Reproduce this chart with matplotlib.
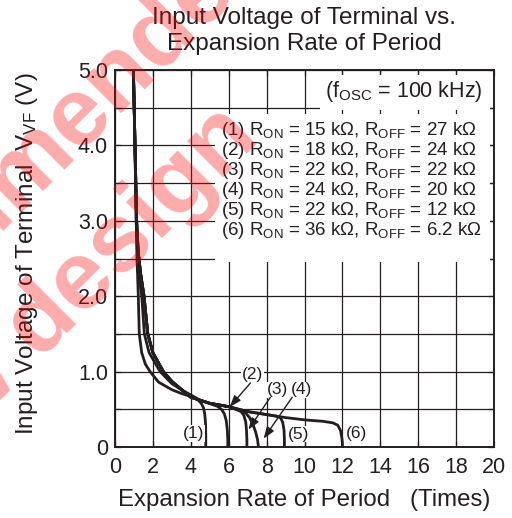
import matplotlib
matplotlib.use("Agg")
import matplotlib.pyplot as plt
from matplotlib.patches import Rectangle
from matplotlib.ticker import MultipleLocator, FixedLocator

plt.rcParams['font.family'] = ['Liberation Sans', 'DejaVu Sans']
plt.rcParams['mathtext.fontset'] = 'custom'
plt.rcParams['mathtext.rm'] = 'Liberation Sans'
plt.rcParams['mathtext.it'] = 'Liberation Sans:italic'
plt.rcParams['mathtext.bf'] = 'Liberation Sans:bold'

# ---- data: expansion rate of period (x) vs. VF terminal voltage (V) ----
x1 = [0.97, 1.03, 1.08, 1.12, 1.16, 1.23, 1.28, 1.41, 1.60, 1.85, 2.3, 3.0, 3.5, 4.0, 4.35, 4.55, 4.67, 4.74, 4.78, 4.79, 4.79]
v1 = [5.0, 4.3, 3.6, 3.0, 2.5, 2.0, 1.5, 1.25, 1.1, 1.0, 0.86, 0.76, 0.71, 0.67, 0.63, 0.58, 0.52, 0.43, 0.3, 0.15, 0.0]

x2 = [0.97, 1.03, 1.08, 1.12, 1.18, 1.28, 1.41, 1.55, 1.80, 2.38, 3.0, 3.5, 4.0, 4.5, 5.0, 5.4, 5.62, 5.77, 5.87, 5.93, 5.95, 5.95]
v2 = [5.0, 4.3, 3.6, 3.0, 2.6, 2.25, 2.0, 1.5, 1.25, 1.0, 0.84, 0.76, 0.69, 0.62, 0.575, 0.54, 0.5, 0.44, 0.35, 0.22, 0.1, 0.0]

x3 = [0.97, 1.03, 1.09, 1.14, 1.22, 1.35, 1.53, 1.73, 2.0, 2.55, 3.0, 3.52, 4.0, 5.0, 6.0, 6.4, 6.65, 6.8, 6.9, 6.94, 6.96, 6.96]
v3 = [5.0, 4.3, 3.6, 3.0, 2.6, 2.3, 2.0, 1.5, 1.25, 1.0, 0.87, 0.76, 0.66, 0.58, 0.535, 0.5, 0.47, 0.42, 0.33, 0.22, 0.1, 0.0]

x4 = [0.97, 1.03, 1.09, 1.14, 1.22, 1.35, 1.53, 1.73, 2.0, 2.55, 3.0, 3.52, 4.0, 5.0, 6.0, 6.6, 6.9, 7.1, 7.28, 7.42, 7.52, 7.57]
v4 = [5.0, 4.3, 3.6, 3.0, 2.6, 2.3, 2.0, 1.5, 1.25, 1.0, 0.87, 0.76, 0.66, 0.58, 0.535, 0.48, 0.45, 0.39, 0.3, 0.2, 0.1, 0.0]

x5 = [0.97, 1.03, 1.09, 1.14, 1.22, 1.35, 1.53, 1.73, 2.0, 2.55, 3.0, 3.52, 4.0, 5.0, 6.0, 7.0, 8.0, 8.5, 8.72, 8.85, 8.92, 8.94, 8.94]
v5 = [5.0, 4.3, 3.6, 3.0, 2.6, 2.3, 2.0, 1.5, 1.25, 1.0, 0.87, 0.76, 0.66, 0.58, 0.535, 0.47, 0.43, 0.41, 0.39, 0.33, 0.22, 0.1, 0.0]

x6 = [0.97, 1.03, 1.09, 1.14, 1.22, 1.35, 1.53, 1.73, 2.0, 2.55, 3.0, 3.52, 4.0, 5.0, 6.0, 7.0, 8.0, 9.0, 10.0, 11.0, 11.5, 11.75, 11.9, 11.97, 12.0, 12.0]
v6 = [5.0, 4.3, 3.6, 3.0, 2.6, 2.3, 2.0, 1.5, 1.25, 1.0, 0.87, 0.76, 0.66, 0.58, 0.535, 0.47, 0.43, 0.39, 0.36, 0.34, 0.32, 0.29, 0.22, 0.12, 0.05, 0.0]

curve_ids = ['(1)', '(2)', '(3)', '(4)', '(5)', '(6)']
r_on = ['15', '18', '22', '24', '22', '36']
r_off = ['27', '24', '22', '20', '12', '6.2']

x_ticks = [0, 2, 4, 6, 8, 10, 12, 14, 16, 18, 20]
y_ticks = [0, 1, 2, 3, 4, 5]
y_tick_labels = ['0', '1.0', '2.0', '3.0', '4.0', '5.0']

# ---- figure ----
W, H = 512, 518
fig = plt.figure(figsize=(W / 100, H / 100), dpi=100)
ax = fig.add_axes([115 / W, 1 - 447 / H, (494 - 115) / W, (447 - 70) / H])
ax.set_xlim(0, 20)
ax.set_ylim(0, 5)

ink = '#231f20'
ax.xaxis.set_major_locator(FixedLocator(x_ticks))
ax.yaxis.set_major_locator(FixedLocator(y_ticks))
ax.yaxis.set_minor_locator(MultipleLocator(0.5))
ax.set_yticklabels(y_tick_labels)
ax.grid(True, which='both', color=ink, linewidth=0.9)
ax.set_axisbelow(True)
ax.tick_params(which='both', direction='in', top=True, right=True, length=4,
               width=0.9, color=ink, labelsize=15.5, labelcolor=ink)
ax.tick_params(axis='x', pad=7)
ax.tick_params(axis='y', pad=5)
for s in ax.spines.values():
    s.set_linewidth(1.4)
    s.set_color(ink)

# white areas behind the condition text
ax.add_patch(Rectangle((10.83, 4.47), 19.8 - 10.83, 4.93 - 4.47,
                       facecolor='white', edgecolor='none', zorder=1.2))
ax.add_patch(Rectangle((5.3, 2.46), 19.8 - 5.3, 4.42 - 2.46,
                       facecolor='white', edgecolor='none', zorder=1.2))

for xs, vs in zip([x1, x2, x3, x4, x5, x6], [v1, v2, v3, v4, v5, v6]):
    ax.plot(xs, vs, color=ink, linewidth=2.0, solid_joinstyle='round',
            solid_capstyle='butt', zorder=3)

# condition text
ax.text(19.4, 4.71, r'(f$_{\rm OSC}$ = 100 kHz)', ha='right', va='center',
        fontsize=15.5, color=ink, zorder=4)
for i, (cid, ron, roff) in enumerate(zip(curve_ids, r_on, r_off)):
    ax.text(5.62, 4.2 - i * 0.266,
            cid + r' R$_{\rm ON}$ = ' + ron + ' k\u03a9, R$_{\\rm OFF}$ = ' + roff + ' k\u03a9',
            ha='left', va='center', fontsize=13.5, color=ink, zorder=4)

# curve labels and arrows
lab_box = dict(facecolor='white', edgecolor='none', pad=0.5)
label_pos = {'(1)': (4.14, 0.18), '(2)': (7.24, 0.96), '(3)': (8.57, 0.76),
             '(4)': (9.86, 0.76), '(5)': (9.69, 0.17), '(6)': (12.77, 0.18)}
for cid in curve_ids:
    lx, ly = label_pos[cid]
    ax.text(lx, ly, cid, ha='center', va='center', fontsize=12.5, color=ink,
            bbox=lab_box, zorder=4)
arrows = [((7.15, 0.85), (6.05, 0.53)),
          ((8.2, 0.66), (7.04, 0.23)),
          ((9.35, 0.66), (7.84, 0.11))]
for (sx, sy), (tx, ty) in arrows:
    ax.annotate('', xy=(tx, ty), xytext=(sx, sy),
                arrowprops=dict(arrowstyle='-|>,head_length=0.7,head_width=0.25',
                                color=ink, lw=1.0, shrinkA=0, shrinkB=0),
                zorder=5)

# titles and axis labels
fig.text(304 / W, 1 - 31 / H, 'Input Voltage of Terminal vs.\nExpansion Rate of Period',
         ha='center', va='center', fontsize=17.5, color=ink, linespacing=1.22)
fig.text(304 / W, 1 - 500 / H, 'Expansion Rate of Period   (Times)',
         ha='center', va='center', fontsize=17.3, color=ink)
fig.text(27 / W, 1 - 254 / H, r'Input Voltage of Terminal  V$_{\rm VF}$ (V)',
         ha='center', va='center', rotation=90, fontsize=17.5, color=ink)

# watermark
wm = dict(color='red', alpha=0.33, fontsize=70, fontweight='bold',
          rotation=45, rotation_mode='anchor', ha='right', va='baseline', zorder=20)
fig.text(281 / W, 565 / H, 'not recommended', **wm)
fig.text(261 / W, 378 / H, 'for new design', **wm)

fig.savefig('out.png', dpi=100)
